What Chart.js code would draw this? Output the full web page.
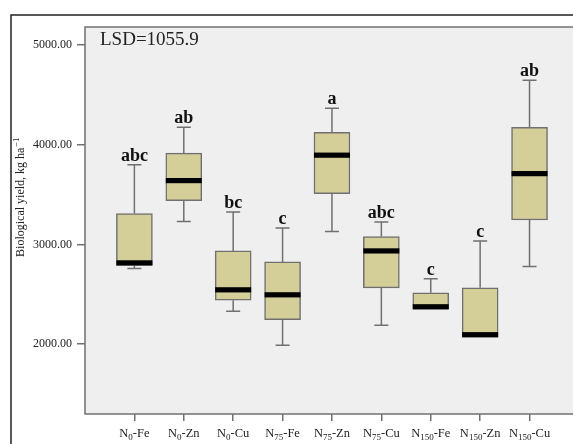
<!DOCTYPE html>
<html>
<head>
<meta charset="utf-8">
<style>
  html, body { margin: 0; padding: 0; background: #ffffff; }
  #wrap { width: 573px; height: 444px; }
</style>
<script src="https://cdn.jsdelivr.net/npm/chart.js@4/dist/chart.umd.min.js"></script>
</head>
<body>
<div id="wrap"><canvas id="chart" width="573" height="444"></canvas></div>
<script>
// Treatment groups (nitrogen level is written as a subscript after "N")
const categories = ['N0-Fe', 'N0-Zn', 'N0-Cu', 'N75-Fe', 'N75-Zn', 'N75-Cu', 'N150-Fe', 'N150-Zn', 'N150-Cu'];

// Box-plot statistics of biological yield (kg ha-1)
const minValues    = [2760, 3230, 2330, 1990, 3130, 2190, 2350, 2070, 2780];
const q1Values     = [2790, 3440, 2440, 2245, 3510, 2565, 2350, 2070, 3245];
const medianValues = [2815, 3640, 2545, 2495, 3895, 2935, 2375, 2095, 3710];
const q3Values     = [3310, 3915, 2935, 2825, 4125, 3080, 2515, 2565, 4175];
const maxValues    = [3800, 4175, 3325, 3165, 4365, 3225, 2655, 3035, 4645];

// Mean-separation letters and the LSD note
const groupLetters = ['abc', 'ab', 'bc', 'c', 'a', 'abc', 'c', 'c', 'ab'];
const lsdText = 'LSD=1055.9';

// Axis
const yTickValues = [2000, 3000, 4000, 5000];
const yMin = 1300, yMax = 5180;

const SERIF = '"Liberation Serif", "Times New Roman", serif';
const LINE = '#707070';
const BOX_FILL = 'rgb(212, 206, 153)';

// Draws the outer frame, the plot background and border
const framePlugin = {
  id: 'frame',
  beforeDraw(chart) {
    const ctx = chart.ctx;
    const a = chart.chartArea;
    ctx.save();
    ctx.strokeStyle = '#222';
    ctx.lineWidth = 1.5;
    ctx.beginPath();
    ctx.moveTo(11, chart.height + 2);
    ctx.lineTo(11, 15);
    ctx.lineTo(chart.width + 2, 15);
    ctx.stroke();

    ctx.fillStyle = '#efefef';
    ctx.fillRect(a.left, a.top, a.right - a.left + 10, a.bottom - a.top);
    ctx.strokeStyle = LINE;
    ctx.lineWidth = 1.5;
    ctx.strokeRect(a.left, a.top, a.right - a.left + 10, a.bottom - a.top);
    ctx.restore();
  }
};

// Whiskers, medians, letters, the LSD note and the custom axis texts
const boxPlugin = {
  id: 'boxExtras',
  afterDatasetsDraw(chart) {
    const ctx = chart.ctx;
    const xs = chart.scales.x;
    const ys = chart.scales.y;
    const meta = chart.getDatasetMeta(0);
    ctx.save();
    categories.forEach((cat, i) => {
      const bar = meta.data[i];
      const cx = xs.getPixelForValue(i + 1);
      const half = bar.width / 2;
      const yMaxP = ys.getPixelForValue(maxValues[i]);
      const yMinP = ys.getPixelForValue(minValues[i]);
      const yQ1 = ys.getPixelForValue(q1Values[i]);
      const yQ3 = ys.getPixelForValue(q3Values[i]);
      const yMed = ys.getPixelForValue(medianValues[i]);

      ctx.strokeStyle = LINE;
      ctx.lineWidth = 1.5;
      ctx.beginPath();
      if (maxValues[i] > q3Values[i]) {
        ctx.moveTo(cx, yQ3); ctx.lineTo(cx, yMaxP);
        ctx.moveTo(cx - 7, yMaxP); ctx.lineTo(cx + 7, yMaxP);
      }
      if (minValues[i] < q1Values[i]) {
        ctx.moveTo(cx, yQ1); ctx.lineTo(cx, yMinP);
        ctx.moveTo(cx - 7, yMinP); ctx.lineTo(cx + 7, yMinP);
      }
      ctx.stroke();

      // median band
      ctx.fillStyle = '#000';
      ctx.fillRect(cx - half, yMed - 2.6, half * 2, 5.2);

      // significance letters
      ctx.font = 'bold 18px ' + SERIF;
      ctx.textAlign = 'center';
      ctx.textBaseline = 'alphabetic';
      ctx.fillStyle = '#111';
      ctx.fillText(groupLetters[i], cx, yMaxP - 4);

      // category label with subscript nitrogen rate
      const m = cat.match(/^N(\d+)(-.*)$/);
      const mainFont = '12.5px ' + SERIF;
      const subFont = '9px ' + SERIF;
      ctx.font = mainFont;
      const wN = ctx.measureText('N').width;
      const wRest = ctx.measureText(m[2]).width;
      ctx.font = subFont;
      const wSub = ctx.measureText(m[1]).width;
      let x0 = cx - (wN + wSub + wRest) / 2;
      const base = xs.bottom - 7;
      ctx.textAlign = 'left';
      ctx.fillStyle = '#222';
      ctx.font = mainFont;
      ctx.fillText('N', x0, base);
      ctx.font = subFont;
      ctx.fillText(m[1], x0 + wN, base + 3);
      ctx.font = mainFont;
      ctx.fillText(m[2], x0 + wN + wSub, base);
    });

    // LSD note
    ctx.font = '19px ' + SERIF;
    ctx.textAlign = 'left';
    ctx.fillStyle = '#222';
    ctx.fillText(lsdText, 100, 45);

    // rotated y-axis title with superscript unit
    const titleMain = 'Biological yield, kg ha';
    const titleSup = '\u22121';
    ctx.translate(24, (chart.chartArea.top + chart.chartArea.bottom) / 2 - 23);
    ctx.rotate(-Math.PI / 2);
    ctx.font = '12px ' + SERIF;
    const w1 = ctx.measureText(titleMain).width;
    ctx.font = '9px ' + SERIF;
    const w2 = ctx.measureText(titleSup).width;
    const start = -(w1 + w2) / 2;
    ctx.font = '12px ' + SERIF;
    ctx.fillText(titleMain, start, 0);
    ctx.font = '9px ' + SERIF;
    ctx.fillText(titleSup, start + w1 + 0.5, -5);
    ctx.restore();
  }
};

new Chart(document.getElementById('chart'), {
  type: 'bar',
  data: {
    datasets: [{
      data: categories.map((c, i) => ({ x: i + 1, y: [q1Values[i], q3Values[i]] })),
      backgroundColor: BOX_FILL,
      borderColor: LINE,
      borderWidth: 1.5,
      borderSkipped: false,
      barThickness: 36
    }]
  },
  options: {
    responsive: false,
    animation: false,
    devicePixelRatio: 1,
    layout: { padding: { top: 27, left: 0, right: 0, bottom: 0 } },
    plugins: { legend: { display: false }, tooltip: { enabled: false } },
    scales: {
      x: {
        type: 'linear',
        offset: false,
        min: 0,
        max: 9.88,
        afterBuildTicks: (scale) => { scale.ticks = categories.map((c, i) => ({ value: i + 1 })); },
        afterFit: (scale) => { scale.height = 30; },
        ticks: { display: false },
        grid: { display: true, offset: false, drawOnChartArea: false, drawTicks: true, tickLength: 7, color: LINE, lineWidth: 1.5 },
        border: { display: false }
      },
      y: {
        min: yMin,
        max: yMax,
        afterBuildTicks: (scale) => { scale.ticks = yTickValues.map(v => ({ value: v })); },
        afterFit: (scale) => { scale.width = 85; },
        ticks: {
          padding: 5,
          color: '#222',
          font: { family: SERIF, size: 12 },
          callback: (v) => Number(v).toFixed(2)
        },
        grid: { display: true, drawOnChartArea: false, drawTicks: true, tickLength: 8, color: LINE, lineWidth: 1.5 },
        border: { display: false }
      }
    }
  },
  plugins: [framePlugin, boxPlugin]
});
</script>
</body>
</html>
